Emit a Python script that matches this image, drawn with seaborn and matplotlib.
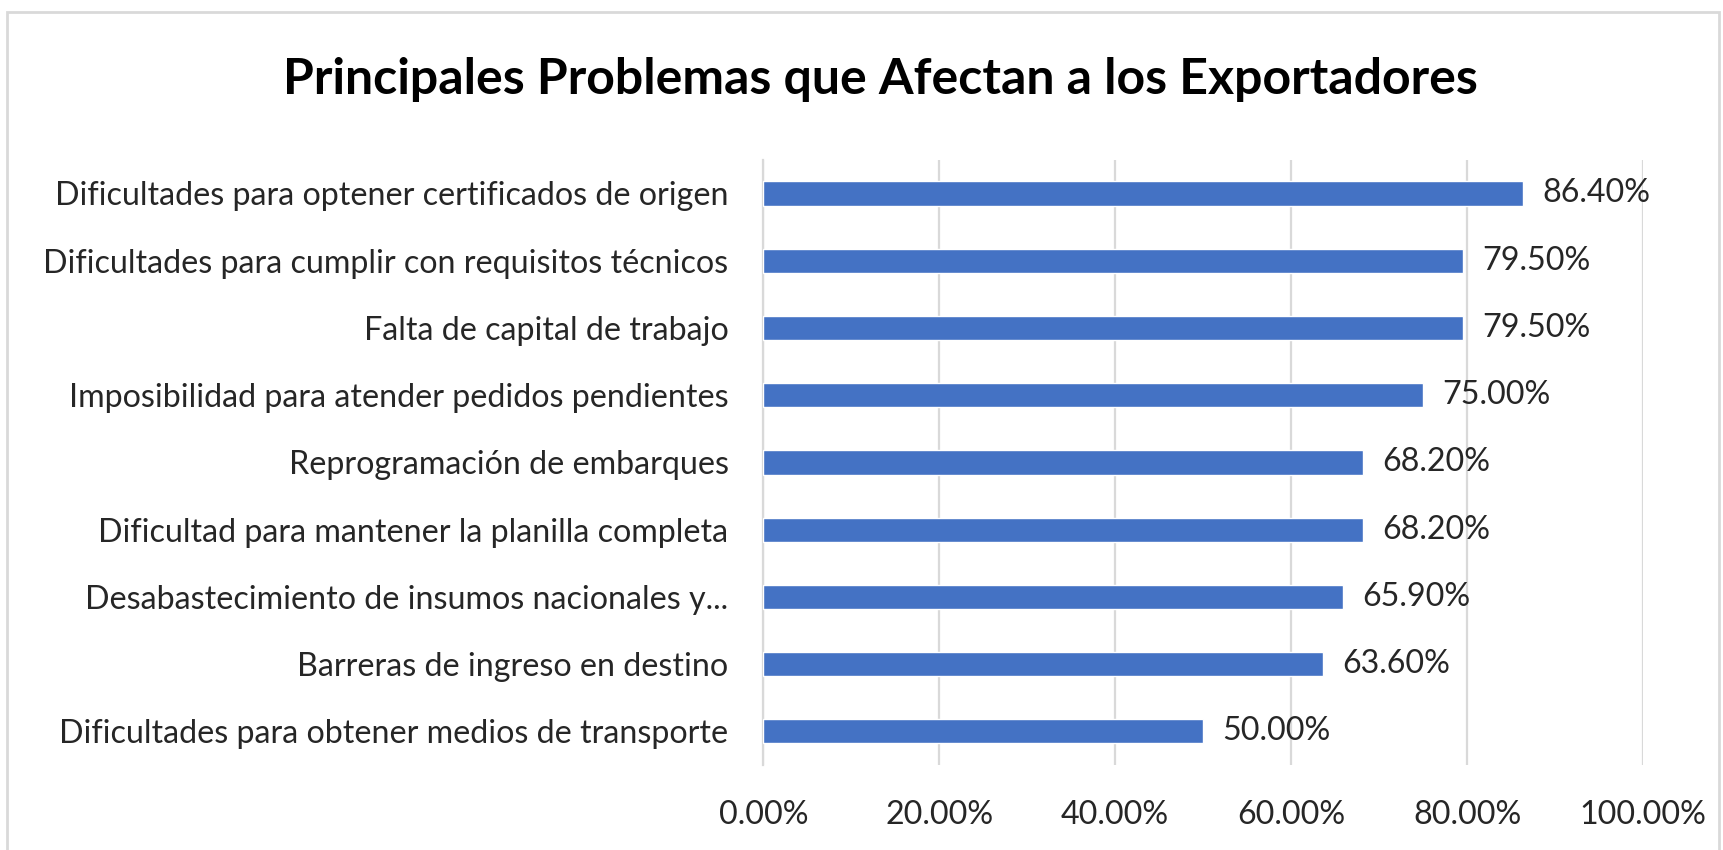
import matplotlib
matplotlib.use("Agg")
import matplotlib.pyplot as plt
import seaborn as sns
import pandas as pd
from matplotlib.patches import Rectangle
from matplotlib.ticker import FuncFormatter

categories = [
    "Dificultades para optener certificados de origen",
    "Dificultades para cumplir con requisitos técnicos",
    "Falta de capital de trabajo",
    "Imposibilidad para atender pedidos pendientes",
    "Reprogramación de embarques",
    "Dificultad para mantener la planilla completa",
    "Desabastecimiento de insumos nacionales y...",
    "Barreras de ingreso en destino",
    "Dificultades para obtener medios de transporte",
]
values = [86.4, 79.5, 79.5, 75.0, 68.2, 68.2, 65.9, 63.6, 50.0]
x_ticks = [0, 20, 40, 60, 80, 100]
title = "Principales Problemas que Afectan a los Exportadores"

sns.set_theme(style="white")
plt.rcParams["font.family"] = ["Lato", "DejaVu Sans"]

df = pd.DataFrame({"cat": categories, "val": values})

fig = plt.figure(figsize=(17.23, 8.5), dpi=100)
ax = fig.add_axes([0.443, 0.10, 0.5106, 0.712])

sns.barplot(data=df, y="cat", x="val", orient="h", color="#4472C4",
            width=0.36, saturation=1, ax=ax, zorder=3)

ax.set_xlim(0, 100)
ax.set_xticks(x_ticks)
ax.xaxis.set_major_formatter(FuncFormatter(lambda v, p: f"{v:.2f}%"))
ax.grid(axis="x", color="#d9d9d9", linewidth=1.6, zorder=0)
ax.grid(axis="y", visible=False)
for s in ["top", "right", "bottom"]:
    ax.spines[s].set_visible(False)
ax.spines["left"].set_color("#d9d9d9")
ax.spines["left"].set_linewidth(1.6)
ax.set_xlabel("")
ax.set_ylabel("")
ax.tick_params(axis="y", length=0, pad=25, labelsize=23.2, labelcolor="#262626")
ax.tick_params(axis="x", length=0, pad=25, labelsize=23.2, labelcolor="#262626")

for c in ax.containers:
    ax.bar_label(c, labels=[f"{v:.2f}%" for v in values], padding=14,
                 fontsize=23.2, color="#262626")

fig.text(0.511, 0.907, title, ha="center", va="center", fontsize=36,
         fontweight="bold", color="#000000")

fig.patches.append(Rectangle((7 / 1723, -0.05), 1712 / 1723, 1.05 - 12 / 850,
                             transform=fig.transFigure, fill=False,
                             edgecolor="#d9d9d9", linewidth=2))

fig.savefig("out.png", dpi=100, facecolor="white")
